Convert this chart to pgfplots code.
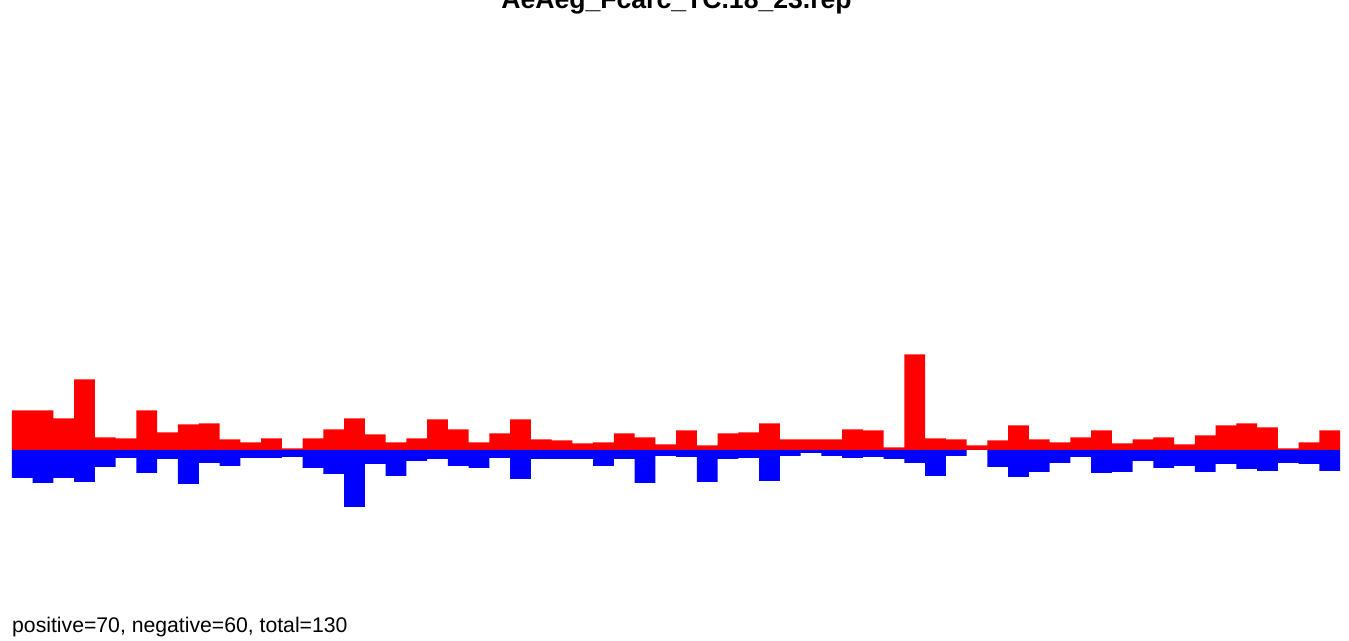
\documentclass[border=0pt]{standalone}
\usepackage{pgfplots}
\pgfplotsset{compat=1.18}
\usepackage{pgfplotstable}
\usepackage{fontspec}
\setmainfont{Liberation Sans}
\pgfplotstableread{
i pos neg
0 39.7 -28
1 39.7 -33
2 31.7 -28
3 70.7 -32
4 12.7 -17
5 11.7 -8
6 39.7 -23
7 17.7 -9
8 25.7 -34
9 26.7 -13
10 10.7 -16
11 7.7 -8
12 11.7 -8
13 1.7 -7
14 11.7 -18
15 20.7 -24
16 31.7 -57
17 15.7 -14
18 7.7 -26
19 11.7 -11
20 30.7 -9
21 20.7 -16
22 7.7 -18
23 16.7 -8
24 30.7 -29
25 10.7 -9
26 9.7 -9
27 6.7 -9
28 7.7 -16
29 16.7 -9
30 12.7 -33
31 5.7 -6
32 19.7 -7
33 4.7 -32
34 16.7 -9
35 17.7 -8
36 26.7 -31
37 10.7 -6
38 10.7 -3
39 10.7 -6
40 20.7 -8
41 19.7 -7
42 2.7 -9
43 95.7 -13
44 11.7 -26
45 10.7 -6
46 4.7 0
47 9.7 -17
48 24.7 -27
49 10.7 -22
50 7.7 -13
51 12.7 -7
52 19.7 -23
53 6.7 -22
54 10.7 -11
55 12.7 -18
56 5.7 -16
57 14.7 -22
58 24.7 -14
59 26.7 -19
60 22.7 -21
61 1.7 -13
62 7.7 -14
63 19.7 -21
}\bars
\begin{document}
\begin{tikzpicture}
\begin{axis}[
  scale only axis,
  width=1349bp, height=641bp,
  xmin=-1.078, xmax=63.934,
  ymin=-191, ymax=450,
  hide axis,
  clip=false,
  ybar, bar width=1,
]
\addplot[draw=none, fill=red, bar shift=0pt] table[x=i, y=pos] {\bars};
\addplot[draw=none, fill=blue, bar shift=0pt] table[x=i, y=neg] {\bars};
\node[anchor=base, font=\fontsize{26.6bp}{32bp}\selectfont\bfseries]
  at (rel axis cs:0.5015,0.9875) {AeAeg\_Fcarc\_TC.18\_23.rep};
\node[anchor=base west, inner sep=0pt, font=\fontsize{21.2bp}{25bp}\selectfont]
  at (rel axis cs:0.0089,0.0125) {positive=70, negative=60, total=130};
\end{axis}
\pgfresetboundingbox
\path[use as bounding box] (0,0) rectangle (1349bp,641bp);
\end{tikzpicture}
\end{document}
